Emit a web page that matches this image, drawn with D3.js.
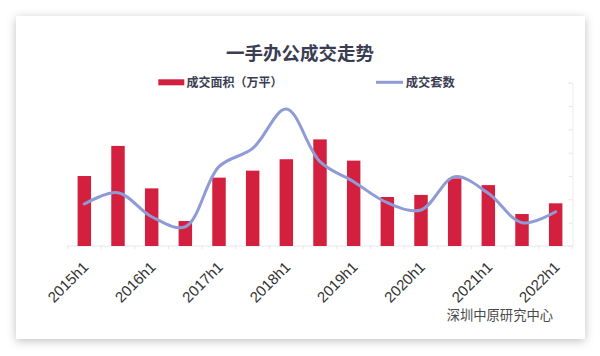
<!DOCTYPE html>
<html>
<head>
<meta charset="utf-8">
<script src="https://cdn.jsdelivr.net/npm/d3@7/dist/d3.min.js"></script>
<style>
  html, body { margin: 0; padding: 0; background: #ffffff; }
  svg { display: block; }
</style>
</head>
<body>
<svg id="chart" width="600" height="356"></svg>
<script>
const categories = ["2015h1","2015h2","2016h1","2016h2","2017h1","2017h2","2018h1","2018h2",
                    "2019h1","2019h2","2020h1","2020h2","2021h1","2021h2","2022h1"];
const areaValues = [30.0, 42.9, 24.7, 10.7, 29.3, 32.3, 37.2, 45.7, 36.6, 21.0, 21.9, 29.0, 26.1, 13.7, 18.3];
const countValues = [360, 457, 251, 165, 680, 837, 1174, 723, 551, 371, 309, 594, 452, 200, 294];
const tickLabels = ["2015h1","2016h1","2017h1","2018h1","2019h1","2020h1","2021h1","2022h1"];
const title = "一手办公成交走势";
const legendNames = ["成交面积（万平）", "成交套数"];
const sourceText = "深圳中原研究中心";

const svg = d3.select("#chart");
const defs = svg.append("defs");
const f = defs.append("filter").attr("id","shadow").attr("x","-10%").attr("y","-10%").attr("width","120%").attr("height","120%");
f.append("feDropShadow").attr("dx",0).attr("dy",2).attr("stdDeviation",5).attr("flood-color","#000").attr("flood-opacity",0.25);

svg.append("rect").attr("x",16).attr("y",16).attr("width",569).attr("height",323)
  .attr("fill","#fff").attr("filter","url(#shadow)");

const plotLeft = 67.5, plotRight = 572.5, plotTop = 82.7, plotBottom = 246;
const x = d3.scaleBand().domain(categories).range([plotLeft, plotRight]).paddingInner(0.6).paddingOuter(0.3);
const yL = d3.scaleLinear().domain([0, 70]).range([plotBottom, plotTop]);
const yR = d3.scaleLinear().domain([0, 1400]).range([plotBottom, plotTop]);

// right axis (faint)
const rAxis = svg.append("g").attr("transform", `translate(${plotRight},0)`)
  .call(d3.axisLeft(yR).ticks(7).tickSize(4).tickFormat(""));
rAxis.select(".domain").attr("stroke","#ececec");
rAxis.selectAll(".tick line").attr("stroke","#e6e6e6");

// bottom axis
const xAxisG = svg.append("g").attr("transform", `translate(0,${plotBottom})`);
xAxisG.append("line").attr("x1",plotLeft).attr("x2",plotRight).attr("y1",0).attr("y2",0).attr("stroke","#e3e7ee");
categories.forEach((c) => {
  const bx = x(c) + x.bandwidth()/2 - x.step()/2;
  xAxisG.append("line").attr("x1",bx).attr("x2",bx).attr("y1",0).attr("y2",3).attr("stroke","#e3e7ee");
});
xAxisG.append("line").attr("x1",plotRight).attr("x2",plotRight).attr("y1",0).attr("y2",3).attr("stroke","#e3e7ee");

// bars
svg.append("g").selectAll("rect").data(categories).join("rect")
  .attr("x", c => x(c))
  .attr("width", x.bandwidth())
  .attr("y", (c,i) => yL(areaValues[i]))
  .attr("height", (c,i) => plotBottom - yL(areaValues[i]))
  .attr("fill", "#d4203f");

// line
const line = d3.line()
  .x((d,i) => x(categories[i]) + x.bandwidth()/2)
  .y(d => yR(d))
  .curve(d3.curveCatmullRom.alpha(0.5));
svg.append("path").datum(countValues).attr("d", line)
  .attr("fill","none").attr("stroke","#8f9bd6").attr("stroke-width",3).attr("stroke-linecap","round");

// x labels
svg.append("g").selectAll("text").data(tickLabels).join("text")
  .attr("transform", d => `translate(${x(d) + x.bandwidth()/2 + 5},268) rotate(-45)`)
  .attr("text-anchor","end")
  .attr("font-family","'Liberation Sans', Arial, sans-serif")
  .attr("font-size",15)
  .attr("fill","#333")
  .text(d => d);

// title
svg.append("text").attr("x",300).attr("y",60).attr("text-anchor","middle")
  .attr("font-family","'Noto Sans CJK SC', sans-serif").attr("font-weight","bold")
  .attr("font-size",18.5).attr("fill","#3b3d52").text(title);

// legend
svg.append("rect").attr("x",158.3).attr("y",79.3).attr("width",26).attr("height",6).attr("fill","#d4203f");
svg.append("text").attr("x",186.5).attr("y",86.6)
  .attr("font-family","'Noto Sans CJK SC', sans-serif").attr("font-weight","bold")
  .attr("font-size",12).attr("fill","#3b3d52").text(legendNames[0]);
svg.append("line").attr("x1",376).attr("x2",403).attr("y1",82.3).attr("y2",82.3)
  .attr("stroke","#8f9bd6").attr("stroke-width",3);
svg.append("text").attr("x",405.7).attr("y",86.6)
  .attr("font-family","'Noto Sans CJK SC', sans-serif").attr("font-weight","bold")
  .attr("font-size",12.3).attr("fill","#3b3d52").text(legendNames[1]);

// source
svg.append("text").attr("x",446.7).attr("y",319.7)
  .attr("font-family","'Noto Sans CJK SC', sans-serif")
  .attr("font-size",13.3).attr("fill","#4a4a4a").text(sourceText);
</script>
</body>
</html>
